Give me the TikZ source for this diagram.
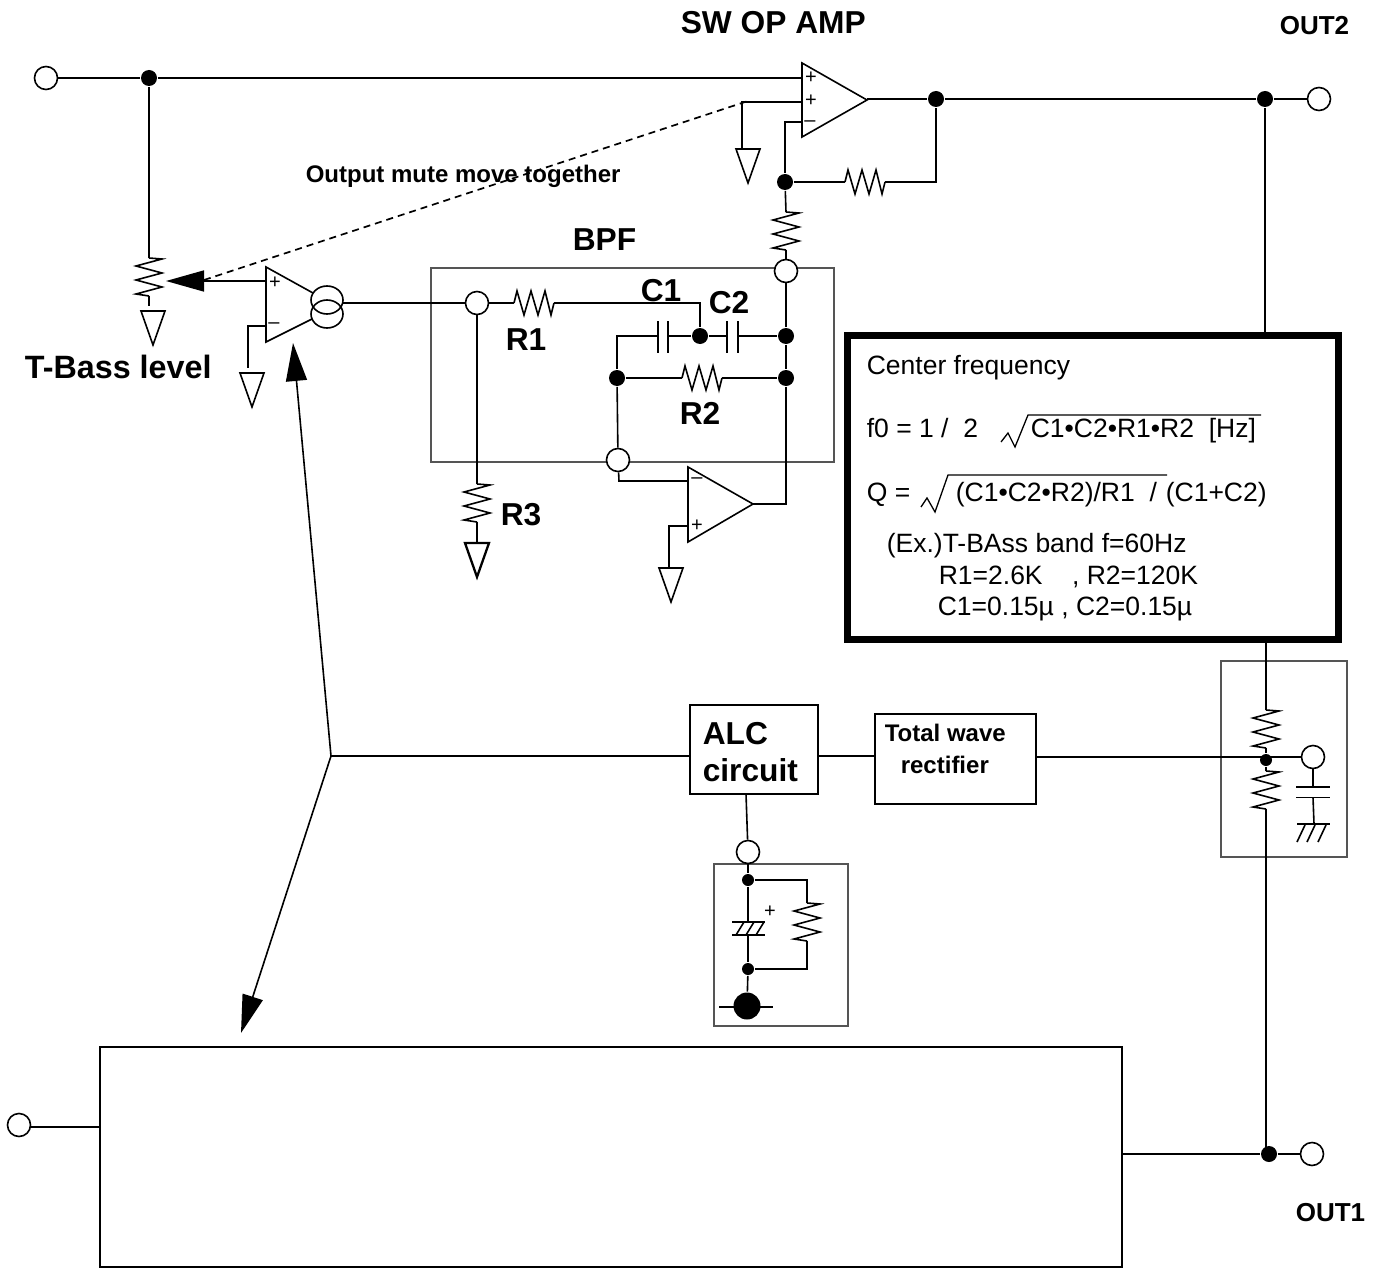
\documentclass[tikz,border=0pt]{standalone}
\usepackage{fontspec}
\setmainfont{Liberation Sans}
\usetikzlibrary{arrows.meta,shapes.geometric}
\definecolor{boxgrey}{HTML}{555555}
\newcommand{\fsz}[1]{\fontsize{#1}{#1}\selectfont}
\tikzset{
  term/.style={circle,draw,fill=white,minimum size=23pt,inner sep=0pt},
  dot/.style={circle,fill=black,minimum size=16pt,inner sep=0pt},
  smalldot/.style={circle,fill=black,minimum size=12pt,inner sep=0pt},
  bigdot/.style={circle,fill=black,minimum size=27pt,inner sep=0pt},
  greybox/.style={draw=boxgrey},
  block/.style={draw,inner sep=0pt,outer sep=0pt,anchor=north west},
  lbl/.style={anchor=base west,inner sep=0pt,font=\fsz{31.7}\bfseries},
  midlbl/.style={anchor=base west,inner sep=0pt,font=\fsz{26}\bfseries},
  smlbl/.style={anchor=base west,inner sep=0pt,font=\fsz{24}\bfseries},
  eq/.style={anchor=base west,inner sep=0pt,font=\fsz{26.5}},
  sign/.style={inner sep=0pt,font=\fsz{20}},
  bigarrow/.style={-{Triangle[length=38pt,width=21pt]}},
  coil/.style={ellipse,draw,minimum width=32pt,minimum height=28pt,inner sep=0pt},
  pics/vres/.style={code={
    \coordinate (-a) at (0,0); \coordinate (-b) at (0,38);
    \draw (0,0)--(13,1)--(-13,8)--(13,15)--(-13,22)--(13,29)--(-13,36)--(0,38);}},
  pics/hres/.style={code={
    \coordinate (-a) at (0,0); \coordinate (-b) at (40,0);
    \draw (0,0)--(3,-12)--(10,12)--(17,-12)--(24,12)--(31,-12)--(37,12)--(40,0);}},
  pics/gnd/.style={code={
    \draw (-12,0)--(12,0)--(0,34)--cycle;}},
}
\begin{document}
\begin{tikzpicture}[x=1pt,y=-1pt,line width=1.6pt,line join=miter]
\useasboundingbox (0,0) rectangle (1378,1268);
\fill[white] (0,0) rectangle (1378,1268);

% grey enclosures
\draw[greybox] (431,268) rectangle (834,462);
\draw[greybox] (1221,661) rectangle (1347,857);
\draw[greybox] (714,864) rectangle (848,1026);

% blocks
\node[block,minimum width=1022pt,minimum height=220pt] (main) at (100,1047) {};
\node[block,minimum width=128pt,minimum height=89pt] (alc) at (690,705) {};
\node[block,minimum width=161pt,minimum height=90pt] (rect) at (875,714) {};

% terminals and junctions
\node[term] (inA) at (46,78) {};
\node[term] (inB) at (19,1125) {};
\node[term] (out2) at (1319,99) {};
\node[term] (out1) at (1312,1154) {};
\node[term] (bpfin) at (477,303) {};
\node[term] (bpftop) at (786,271) {};
\node[term] (bpfbot) at (618,460) {};
\node[term] (alct) at (748,852) {};
\node[term] (rt) at (1313,757) {};
\node[dot] (j1) at (149,78) {};
\node[dot] (j2) at (936,99) {};
\node[dot] (j3) at (1265,99) {};
\node[dot] (j4) at (785,182) {};
\node[dot] (j5) at (700,336) {};
\node[dot] (j6) at (786,336) {};
\node[dot] (j7) at (617,378) {};
\node[dot] (j8) at (786,378) {};
\node[dot] (j9) at (1269,1154) {};
\node[smalldot] (j10) at (1266,760) {};
\node[smalldot] (j11) at (748,880) {};
\node[smalldot] (j12) at (748,969) {};
\node[bigdot] (j13) at (747,1006) {};

% op amps
\draw (802,63)--(867,100)--(802,137)--cycle;
\coordinate (oa1p1) at (802,78); \coordinate (oa1p2) at (802,102);
\coordinate (oa1m) at (802,122); \coordinate (oa1o) at (867,99);
\node[sign] (s1) at (811,78) {+};
\node[sign] (s2) at (811,101) {+};
\node[sign] (s3) at (810,124) {\textendash};
\draw (313,293)--(266,267)--(266,342)--(312,319);
\coordinate (oa2p) at (266,281); \coordinate (oa2m) at (266,326);
\node[sign] (s4) at (275,283) {+};
\node[sign] (s5) at (274,326) {\textendash};
\node[coil] (c1) at (327,300) {};
\node[coil] (c2) at (327,314) {};
\coordinate (c2o) at (343,303);
\draw (688,467)--(753,504)--(688,542)--cycle;
\coordinate (oa3m) at (688,481); \coordinate (oa3p) at (688,526); \coordinate (oa3o) at (753,504);
\node[sign] (s6) at (697,481) {\textendash};
\node[sign] (s7) at (697,526) {+};

% resistors
\pic (rlev) at (149,258) {vres};
\pic (rfb) at (845,182) {hres};
\pic (rser) at (786,212) {vres};
\pic (r1) at (514,303) {hres};
\pic (r2) at (682,378) {hres};
\pic (r3) at (477,484) {vres};
\pic (ru) at (1266,710) {vres};
\pic (rd) at (1266,771) {vres};
\pic (ral) at (807,903) {vres};

% grounds
\pic at (153,311) {gnd};
\pic at (252,373) {gnd};
\pic at (748,149) {gnd};
\pic at (671,568) {gnd};
\pic[line width=2.3pt] at (477,543) {gnd};

% labels
\node[lbl] (tSW) at (680,34) {SW OP AMP};
\node[midlbl] (tO2) at (1279,35) {OUT2};
\node[midlbl] (tO1) at (1295,1221) {OUT1};
\node[lbl,font=\fsz{32.3}\bfseries] (tTB) at (24,378) {T-Bass level};
\node[lbl] (tBPF) at (572,250) {BPF};
\node[lbl] (tR1) at (505,350) {R1};
\node[lbl] (tC1) at (640,301) {C1};
\node[lbl] (tC2) at (708,313) {C2};
\node[lbl] (tR2) at (679,424) {R2};
\node[lbl] (tR3) at (500,525) {R3};
\node[lbl] (tA1) at (702,744) {ALC};
\node[lbl] (tA2) at (702,781) {circuit};
\node[smlbl] (tT1) at (884,741) {Total wave};
\node[smlbl] (tT2) at (900,773) {rectifier};
\node[smlbl] (tMute) at (305,183) {Output mute move together};

% wires: top section
\draw (inA) -- (j1);
\draw (j1) -- (oa1p1);
\draw (j1) -- (rlev-a);
\coordinate (f1) at (149,306);
\draw (rlev-b) -- (f1);
\coordinate (wiper) at (166,281);
\draw[bigarrow] (oa2p) -- (wiper);
\coordinate (d1) at (204,280); \coordinate (d2) at (748,101);
\draw[dash pattern=on 7pt off 5pt,line width=1.7pt] (d1) -- (d2);
\coordinate (g1) at (742,102); \coordinate (g1f) at (742,148);
\draw (oa1p2) -- (g1) -- (g1f);
\draw (oa1m) -| (j4);
\draw (j4) -- (rfb-a);
\draw (rfb-b) -| (j2);
\draw (oa1o) -- (j2) -- (j3) -- (out2);
\draw (j4) -- (rser-a);
\draw (rser-b) -- (bpftop);
\coordinate (g2) at (248,326); \coordinate (g2f) at (248,368);
\draw (oa2m) -- (g2) -- (g2f);

% wires: band-pass filter
\draw (c2o) -- (bpfin);
\draw (bpfin) -- (r1-a);
\coordinate (r1end) at (700,303);
\draw (r1-b) -- (r1end) -- (j5);
\coordinate (cl) at (617,336);
\coordinate (c1a) at (658,336); \coordinate (c1b) at (668,336);
\coordinate (c2a) at (727,336); \coordinate (c2b) at (738,336);
\draw (j7) -- (cl) -- (c1a);
\draw (c1b) -- (j5) -- (c2a);
\draw (c2b) -- (j6);
\draw (658,321) -- (658,353);
\draw (668,321) -- (668,353);
\draw (727,321) -- (727,353);
\draw (738,321) -- (738,353);
\draw (bpftop) -- (j6) -- (j8);
\draw (j8) |- (oa3o);
\draw (j7) -- (r2-a);
\draw (r2-b) -- (j8);
\draw (j7) -- (bpfbot);
\coordinate (b1) at (619,481);
\draw (bpfbot) -- (b1) -- (oa3m);
\coordinate (g3) at (669,526); \coordinate (g3f) at (669,568);
\draw (oa3p) -- (g3) -- (g3f);
\draw (bpfin) -- (r3-a);
\coordinate (r3f) at (477,543);
\draw (r3-b) -- (r3f);

% wires: right rail
\coordinate (boxT) at (1265,335); \coordinate (boxB) at (1266,640);
\coordinate (railE) at (1266,1154);
\draw (j3) -- (boxT);
\draw (boxB) -- (ru-a);
\draw (ru-b) -- (j10);
\draw (j10) -- (rd-a);
\draw (rd-b) -- (railE);
\coordinate (mo) at (1122,1154);
\draw (mo) -- (j9) -- (out1);
\coordinate (mi) at (100,1127);
\draw (inB.east |- mi) -- (mi);

% trimming capacitor and its ground
\coordinate (rc1) at (1313,787); \coordinate (rc2) at (1313,797.5); \coordinate (rcg) at (1314,824);
\draw (rt) -- (rc1);
\draw (rc2) -- (rcg);
\draw (1296,787) -- (1330,787);
\draw (1296,797.5) -- (1330,797.5);
\draw (1297,824) -- (1330,824);
\draw (1305,825) -- (1297,842);
\draw (1315,825) -- (1307,842);
\draw (1326,825) -- (1318,842);

% ALC chain
\coordinate (jn) at (331,756);
\coordinate (alcL) at (690,756); \coordinate (alcR) at (818,756);
\coordinate (rcL) at (875,756); \coordinate (rcR) at (1036,757);
\draw (jn) -- (alcL);
\draw (alcR) -- (rcL);
\draw (rcR) -- (rt);
\coordinate (tipA) at (293,343); \coordinate (tipB) at (241,1033);
\draw[bigarrow] (jn) -- (tipA);
\draw[bigarrow] (jn) -- (tipB);

% ALC external parts
\coordinate (alcB) at (746,794);
\draw (alcB) -- (alct);
\draw (alct) -- (j11);
\coordinate (rr1) at (807,880); \coordinate (rr2) at (807,969);
\draw (j11) -- (rr1) -- (ral-a);
\draw (ral-b) -- (rr2) -- (j12);
\coordinate (ec1) at (748,922); \coordinate (ec2) at (748,935);
\draw (j11) -- (ec1);
\draw (ec2) -- (j12);
\draw (j12) -- (j13);
\draw (732,922) -- (765,922);
\draw (732,935) -- (765,935);
\draw (736,935) -- (744,922);
\draw (746,935) -- (754,922);
\draw (756,935) -- (764,922);
\node[sign] (s8) at (770,912) {+};
\coordinate (gl) at (719,1007); \coordinate (gr) at (773,1007);
\draw (gl) -- (gr);

% centre-frequency panel
\node[block,fill=white,line width=7pt,minimum width=491.5pt,minimum height=304.5pt] (panel) at (847,335) {};
\node[eq] (e1) at (866,374) {Center frequency};
\node[eq] (e2) at (866,437) {f0 = 1 /\ \ 2};
\node[eq] (e3) at (1030,437) {C1•C2•R1•R2\ \ [Hz]};
\draw[line width=1.3pt] (1001,442)--(1008,433)--(1015,447)--(1028,415)--(1261,415);
\node[eq] (e4) at (866,501) {Q =};
\node[eq] (e5) at (955,501) {(C1•C2•R2)/R1\ \ /};
\node[eq] (e6) at (1165,501) {(C1+C2)};
\draw[line width=1.3pt] (921,507)--(927,498)--(935,512)--(948,475)--(1167,475);
\node[eq] (e7) at (886,552) {(Ex.)T-BAss band f=60Hz};
\node[eq] (e8) at (938,584) {R1=2.6K\ \ \ \ , R2=120K};
\node[eq] (e9) at (937,615) {C1=0.15µ , C2=0.15µ};
\end{tikzpicture}
\end{document}
